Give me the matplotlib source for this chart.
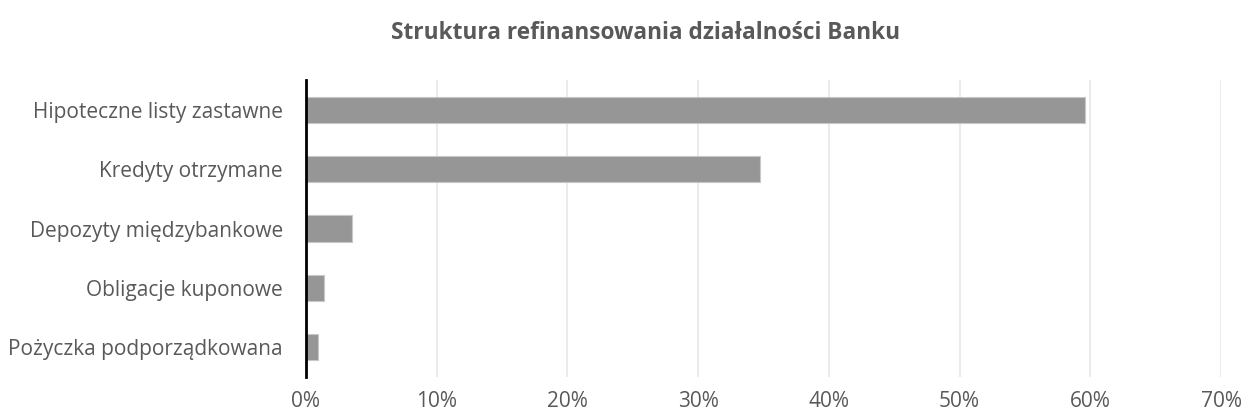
import matplotlib
matplotlib.use("Agg")
import matplotlib.pyplot as plt
from matplotlib.ticker import FuncFormatter

categories = ["Hipoteczne listy zastawne", "Kredyty otrzymane", "Depozyty międzybankowe",
              "Obligacje kuponowe", "Pożyczka podporządkowana"]
values = [59.6, 34.7, 3.5, 1.4, 0.9]
xticks = [0, 10, 20, 30, 40, 50, 60, 70]
title = "Struktura refinansowania działalności Banku"

plt.rcParams['font.family'] = ['Open Sans', 'DejaVu Sans']

fig = plt.figure(figsize=(12.42, 4.16), dpi=100)
ax = fig.add_axes([306/1242, 1-377/416, (1221-306)/1242, (377-80)/416])

ypos = list(range(len(categories)))[::-1]
ax.barh(ypos, values, height=0.44, color='#969696', edgecolor='#c8c8c8', linewidth=0.8, zorder=3)
ax.set_ylim(-0.5, len(categories)-0.5)
ax.set_xlim(0, 70)
ax.set_xticks(xticks)
ax.xaxis.set_major_formatter(FuncFormatter(lambda v, p: f"{int(v)}%"))
ax.set_yticks(ypos)
ax.set_yticklabels(categories)
ax.grid(axis='x', color='#e8e8e8', linewidth=1.2, zorder=0)
for s in ['top', 'right', 'bottom']:
    ax.spines[s].set_visible(False)
ax.spines['left'].set_color('black')
ax.spines['left'].set_linewidth(2)
ax.spines['left'].set_zorder(4)
ax.tick_params(axis='both', length=0, labelsize=15, colors='#595959')
ax.tick_params(axis='y', pad=16.5)
ax.tick_params(axis='x', pad=10)

fig.text(646/1242, 1-33/416, title, ha='center', va='center', fontsize=16.3, fontweight='bold', color='#595959')

fig.savefig("out.png", dpi=100)
